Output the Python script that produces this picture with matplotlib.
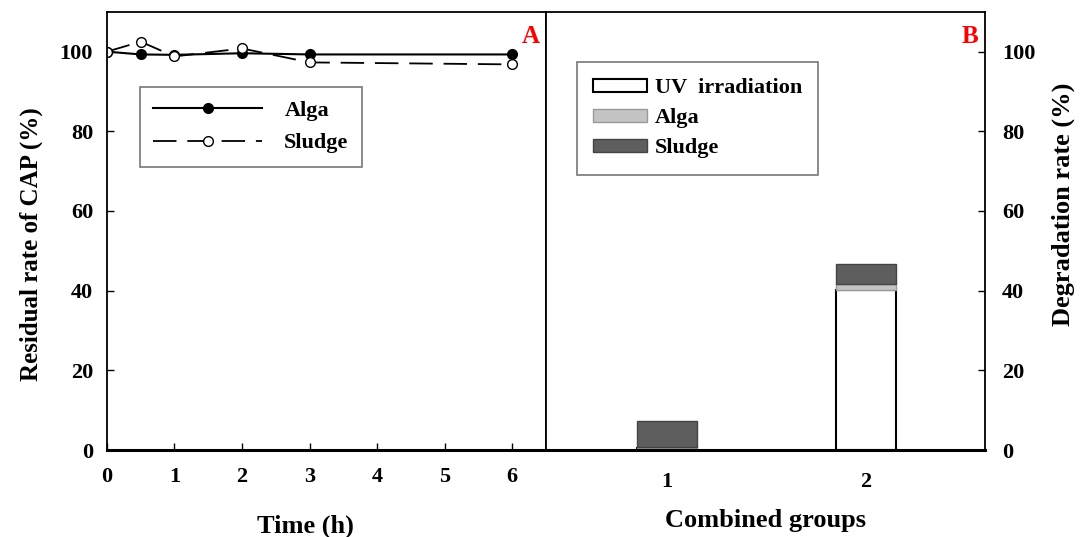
import matplotlib.pyplot as plt
from matplotlib.patches import Patch

# panel A: residual CAP over time
time_h = [0, 0.5, 1, 2, 3, 6]
alga_res = [100, 99.3, 99.2, 99.6, 99.3, 99.3]
sludge_res = [100, 102.5, 98.8, 100.8, 97.3, 96.8]

# panel B: stacked degradation rates
groups = [1, 2]
uv_deg = [0.4, 40.2]
alga_deg = [0.4, 1.4]
sludge_deg = [6.5, 5.0]

plt.rcParams['font.family'] = ['Liberation Serif']
plt.rcParams['font.weight'] = 'bold'
plt.rcParams['font.size'] = 15

fig = plt.figure(figsize=(10.91, 5.37), dpi=100)
ax1 = fig.add_axes([0.098, 0.162, 0.4025, 0.816])
ax2 = fig.add_axes([0.5005, 0.162, 0.4025, 0.816])

ax1.plot(time_h, alga_res, color='black', lw=1.5, marker='o', ms=7,
         mfc='black', mec='black', label='Alga')
ax1.plot(time_h, sludge_res, color='black', lw=1.3, ls=(0, (13, 6)), marker='o', ms=7,
         mfc='white', mec='black', label='Sludge')
ax1.set_xlim(0, 6.5)
ax1.set_ylim(0, 110)
ax1.set_xticks(range(7))
ax1.set_yticks(range(0, 101, 20))
ax1.tick_params(direction='in', length=5, width=1, pad=10, labelsize=16)
ax1.tick_params(axis='x', pad=12)
ax1.set_xlabel('Time (h)', fontsize=19, fontweight='bold', labelpad=20)
ax1.xaxis.label.set_x(0.453)
ax1.set_ylabel('Residual rate of CAP (%)', fontsize=18, fontweight='bold', labelpad=12)
ax1.yaxis.label.set_y(0.47)
ax1.text(0.985, 0.97, 'A', transform=ax1.transAxes, color='red', fontsize=18,
         fontweight='bold', ha='right', va='top')
leg1 = ax1.legend(loc='upper left', bbox_to_anchor=(0.075, 0.829), borderaxespad=0,
                  handlelength=4.9, fancybox=False, edgecolor='#555555', fontsize=16,
                  borderpad=0.6, handletextpad=1.0, labelspacing=0.55)
leg1.get_frame().set_linewidth(1.2)

ax2.bar(groups, uv_deg, width=0.3, color='white', edgecolor='black', lw=1.5,
        label='UV  irradiation')
ax2.bar(groups, alga_deg, width=0.3, bottom=uv_deg, color='#c4c4c4',
        edgecolor='#9a9a9a', lw=1, label='Alga')
bot = [u + a for u, a in zip(uv_deg, alga_deg)]
ax2.bar(groups, sludge_deg, width=0.3, bottom=bot, color='#5e5e5e',
        edgecolor='#444444', lw=1, label='Sludge')
ax2.set_xlim(0.39, 2.6)
ax2.set_ylim(0, 110)
ax2.set_xticks(groups)
ax2.set_yticks(range(0, 101, 20))
ax2.yaxis.tick_right()
ax2.yaxis.set_label_position('right')
ax2.tick_params(axis='y', direction='in', length=5, width=1, pad=12, labelsize=16)
ax2.tick_params(axis='x', length=0, pad=16, labelsize=16)
ax2.set_xlabel('Combined groups', fontsize=19, fontweight='bold', labelpad=12)
ax2.set_ylabel('Degradation rate (%)', fontsize=19, fontweight='bold', labelpad=12)
ax2.yaxis.label.set_y(0.56)
ax2.text(0.985, 0.97, 'B', transform=ax2.transAxes, color='red', fontsize=18,
         fontweight='bold', ha='right', va='top')
handles = [Patch(facecolor='white', edgecolor='black', lw=1.5, label='UV  irradiation'),
           Patch(facecolor='#c4c4c4', edgecolor='#9a9a9a', label='Alga'),
           Patch(facecolor='#5e5e5e', edgecolor='#444444', label='Sludge')]
leg2 = ax2.legend(handles=handles, loc='upper left', bbox_to_anchor=(0.07, 0.886),
                  borderaxespad=0, fancybox=False, edgecolor='#555555', fontsize=16,
                  borderpad=0.75, handlelength=2.4, handleheight=0.5, labelspacing=0.45,
                  handletextpad=0.35)
leg2.get_frame().set_linewidth(1.2)

for ax in (ax1, ax2):
    for s in ax.spines.values():
        s.set_linewidth(1.3)
    ax.spines['bottom'].set_linewidth(2.2)

fig.savefig('out.png', dpi=100)
